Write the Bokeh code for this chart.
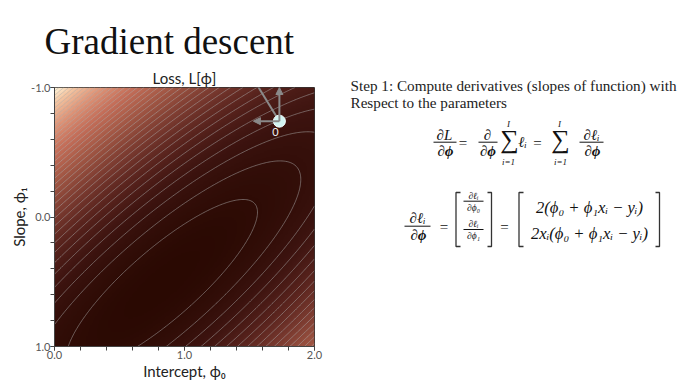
import numpy as np
from bokeh.plotting import figure
from bokeh.layouts import row
from bokeh.models import (Range1d, FixedTicker, PrintfTickFormatter, LinearColorMapper,
                          Title, Arrow, NormalHead, ColumnDataSource)
from bokeh.core.properties import value
from bokeh.embed import file_html
from bokeh.resources import INLINE

# ---------------- data ----------------
# training data (x_i, y_i) whose least-squares loss is drawn
data_x = [0.03, 0.19, 0.34, 0.46, 0.78, 0.81, 1.08, 1.18, 1.39, 1.60, 1.65, 1.90]
data_y = [0.67, 0.85, 1.05, 1.00, 1.40, 1.50, 1.30, 1.54, 1.55, 1.68, 1.73, 1.60]

phi0_limits = [0.0, 2.0]
phi1_limits = [-1.0, 1.0]
x_major_ticks = [0.0, 1.0, 2.0]
y_major_ticks = [-1.0, 0.0, 1.0]
minor_step = 0.2

start_phi = [1.73, -0.74]          # current parameters (point "0")
grad_left = [-0.20, 0.0]           # dL/dphi0 component arrow
grad_up = [0.0, -0.26]             # dL/dphi1 component arrow
grad_diag = [-0.20, -0.325]        # full gradient direction (clipped by frame)
point_label = "0"
contour_step = 2.0

# ---------------- loss surface ----------------
phi0 = np.linspace(phi0_limits[0], phi0_limits[1], 201)
phi1 = np.linspace(phi1_limits[0], phi1_limits[1], 201)
P0, P1 = np.meshgrid(phi0, phi1)
dx = np.array(data_x)[None, None, :]
dy = np.array(data_y)[None, None, :]
Z = np.sum((P0[:, :, None] + P1[:, :, None] * dx - dy) ** 2, axis=2)

# colour map (dark brown -> salmon -> cream)
cm_pos = [0.0, 0.1, 0.2, 0.3, 0.4, 0.5, 0.6, 0.75, 0.9, 1.0]
cm_hex = ["#2a0902", "#3c130f", "#58231d", "#77382e", "#944d3d", "#ae5f4b", "#c46e59",
          "#de9478", "#f4c6a2", "#fff4d8"]
def hex2rgb(h):
    return [int(h[i:i + 2], 16) for i in (1, 3, 5)]
rgb = np.array([hex2rgb(h) for h in cm_hex], dtype=float)
tt = np.linspace(0, 1, 256)
pal = ["#%02x%02x%02x" % tuple(int(round(np.interp(t, cm_pos, rgb[:, c]))) for c in range(3)) for t in tt]
mapper = LinearColorMapper(palette=pal, low=float(Z.min()), high=float(Z.max()))

# ---------------- left figure ----------------
p1 = figure(width=340, height=392, output_backend="svg", toolbar_location=None,
            x_range=Range1d(phi0_limits[0], phi0_limits[1]),
            y_range=Range1d(phi1_limits[1], phi1_limits[0]),
            min_border_left=54, min_border_right=26, min_border_top=87, min_border_bottom=46,
            title_location=None)
p1.frame_align = False
p1.grid.visible = False
p1.outline_line_color = "#333333"

p1.add_layout(Title(text="Loss, L[ϕ]", align="center", text_font="Lato", text_font_size="15px",
                    text_font_style="normal", text_color="#222222", standoff=1), "above")
p1.add_layout(Title(text="Gradient descent", align="left", offset=-10, text_font="Liberation Serif",
                    text_font_size="37px", text_font_style="normal", text_color="#111111",
                    standoff=10), "above")

p1.image(image=[Z], x=phi0_limits[0], y=phi1_limits[0], dw=phi0_limits[1] - phi0_limits[0],
         dh=phi1_limits[1] - phi1_limits[0], color_mapper=mapper)
levels = np.arange(contour_step, Z.max(), contour_step)
p1.contour(phi0, phi1, Z, levels=levels, line_color="#b0b0b0", line_alpha=0.5, line_width=1)

gray = "#8a8a8a"
p1.segment(x0=[start_phi[0]], y0=[start_phi[1]], x1=[start_phi[0] + grad_diag[0]],
           y1=[start_phi[1] + grad_diag[1]], line_color=gray, line_width=2)
for g in (grad_left, grad_up):
    p1.add_layout(Arrow(end=NormalHead(size=7, fill_color=gray, line_color=gray),
                        x_start=start_phi[0], y_start=start_phi[1],
                        x_end=start_phi[0] + g[0], y_end=start_phi[1] + g[1],
                        line_color=gray, line_width=2))
p1.scatter([start_phi[0]], [start_phi[1]], size=12, fill_color="#d2f4f2",
           line_color="#f4ffff", line_width=1)
p1.text([start_phi[0]], [start_phi[1]], text=[point_label], x_offset=-4, y_offset=11,
        text_align="center", text_baseline="middle", text_color="#f2f2f2",
        text_font=value("Lato"), text_font_size="11px")

for ax, ticks, lo, hi in ((p1.xaxis[0], x_major_ticks, *phi0_limits), (p1.yaxis[0], y_major_ticks, *phi1_limits)):
    minors = [round(v, 1) for v in np.arange(lo, hi + 1e-9, minor_step)]
    ax.ticker = FixedTicker(ticks=ticks, minor_ticks=minors)
    ax.formatter = PrintfTickFormatter(format="%.1f")
    ax.major_tick_out = 4
    ax.major_tick_in = 0
    ax.minor_tick_out = 4
    ax.minor_tick_in = 0
    ax.major_label_standoff = 0
    ax.axis_label_standoff = 0
    ax.major_label_text_font = "Lato"
    ax.major_label_text_font_size = "11px"
    ax.major_label_text_color = "#555555"
    ax.axis_label_text_font = "Lato"
    ax.axis_label_text_font_size = "15px"
    ax.axis_label_text_font_style = "normal"
    ax.axis_label_text_color = "#222222"
    ax.axis_line_color = "#444444"
    ax.major_tick_line_color = "#444444"
    ax.minor_tick_line_color = "#444444"
p1.xaxis.axis_label = "Intercept, ϕ₀"
p1.yaxis.axis_label = "Slope, ϕ₁"
p1.yaxis.major_label_orientation = "horizontal"

# ---------------- right figure (text panel, coordinates = page pixels) ----------------
p2 = figure(width=358, height=392, output_backend="svg", toolbar_location=None,
            x_range=Range1d(340, 698), y_range=Range1d(392, 0),
            x_axis_location=None, y_axis_location=None, min_border=0, title_location=None)
p2.frame_align = False
p2.grid.visible = False
p2.outline_line_color = None

def put(items, size, style="normal", align="center", font="Liberation Serif", color="#111111"):
    src = ColumnDataSource(dict(x=[i[1] for i in items], y=[i[2] for i in items],
                                t=[i[0] for i in items]))
    p2.text(x="x", y="y", text="t", source=src, text_font=value(font), text_font_size=size,
            text_font_style=style, text_align=align, text_baseline="middle", text_color=color)

step_lines = [("Step 1:  Compute derivatives (slopes of function) with", 350, 85),
              ("Respect to the parameters", 350, 102)]
put(step_lines, "15.2px", align="left", color="#222222")

# equation 1
put([("∂L", 444, 134), ("∂", 487, 134), ("∂ℓᵢ", 591, 134), ("ℓᵢ", 522, 141)], "15px", "italic")
put([("∂ϕ", 445, 150), ("∂ϕ", 487.5, 150), ("∂ϕ", 592, 150)], "15px", "bold italic")
put([("=", 462.5, 142), ("=", 537, 142)], "15px")
put([("∑", 509, 139), ("∑", 560, 139)], "26px")
put([("I", 508, 123), ("I", 559, 123)], "9px", "italic")
put([("i=1", 508, 161), ("i=1", 560, 161)], "9px", "italic")

# equation 2
put([("∂ℓᵢ", 417, 217)], "15px", "italic")
put([("∂ϕ", 418, 234)], "15px", "bold italic")
put([("=", 443.5, 226), ("=", 504, 226)], "15px")
put([("∂ℓᵢ", 473, 195), ("∂ℓᵢ", 473, 223)], "9.5px", "italic")
put([("∂ϕ₀", 473, 207), ("∂ϕ₁", 473, 235)], "9.5px", "italic")
put([("2(ϕ₀ + ϕ₁xᵢ − yᵢ)", 589, 207), ("2xᵢ(ϕ₀ + ϕ₁xᵢ − yᵢ)", 589, 233)], "16.6px", "italic")

bars_x = [[433, 456], [478, 497], [579, 603], [404, 430], [463, 483], [463, 483]]
bars_y = [[141.7, 141.7], [141.7, 141.7], [141.7, 141.7], [225.7, 225.7], [200.7, 200.7], [229, 229]]
p2.multi_line(bars_x, bars_y, line_color="#111111", line_width=1)

br_x = [[460, 455.5, 455.5, 460], [487, 491, 491, 487], [523, 518.5, 518.5, 523], [655, 659, 659, 655]]
br_y = [[192, 192, 246, 246]] * 4
p2.multi_line(br_x, br_y, line_color="#333333", line_width=1.3)

layout = row(p1, p2)
open("out.html", "w").write(file_html(layout, INLINE))
